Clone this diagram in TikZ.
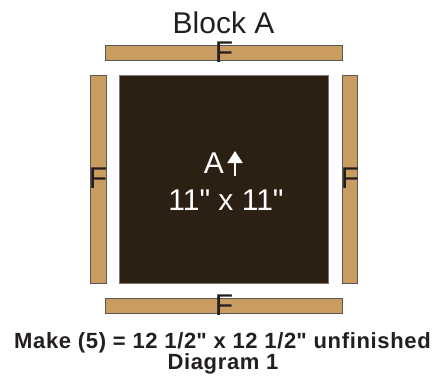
\documentclass[tikz,border=0pt]{standalone}
\usepackage{fontspec}
\setmainfont{Liberation Sans}
\usetikzlibrary{arrows.meta}
\definecolor{wood}{RGB}{201,156,96}
\definecolor{fabric}{RGB}{44,32,19}
\definecolor{ink}{RGB}{35,31,32}
\newcommand{\inch}{\textquotedbl}
\begin{document}
\begin{tikzpicture}[x=1pt,y=-1pt,font=\fontsize{30}{36}\selectfont,strip/.style={fill=wood,draw=ink!75,line width=0.8pt},block/.style={fill=fabric,draw=ink!60,line width=0.5pt},flabel/.style={text=ink,anchor=base,inner sep=0pt},caption/.style={text=ink,anchor=base,inner sep=0pt,font=\fontsize{22}{26}\selectfont\bfseries\addfontfeature{LetterSpace=3}}]
\useasboundingbox (0,0) rectangle (446,381);
\node[flabel] (title) at (223.5,33) {Block A};
\draw[strip] (105,45) rectangle (342,60); \draw[strip] (105,298) rectangle (342,313);
\draw[strip] (90,75) rectangle (106,283); \draw[strip] (342,75) rectangle (357,283);
\draw[block] (119,75) rectangle (328,283);
\node[flabel] (ftop) at (224,62) {F}; \node[flabel] (fbottom) at (224,315) {F};
\node[flabel] (fleft) at (98,188) {F}; \node[flabel] (fright) at (350,188) {F};
\node[flabel,text=white] (blockname) at (214,173) {A};
\coordinate (arrowfoot) at (235,176); \coordinate (arrowtip) at (235,151);
\draw[white,line width=2.2pt,-{Triangle[width=15pt,length=12pt]}] (arrowfoot) -- (arrowtip);
\node[flabel,text=white] (size) at (226,210) {11\inch{} x 11\inch};
\node[caption] (make) at (222.5,348) {Make (5) = 12 1/2\inch{} x 12 1/2\inch{} unfinished};
\node[caption] (diagram) at (223,369.5) {Diagram 1};
\end{tikzpicture}
\end{document}
